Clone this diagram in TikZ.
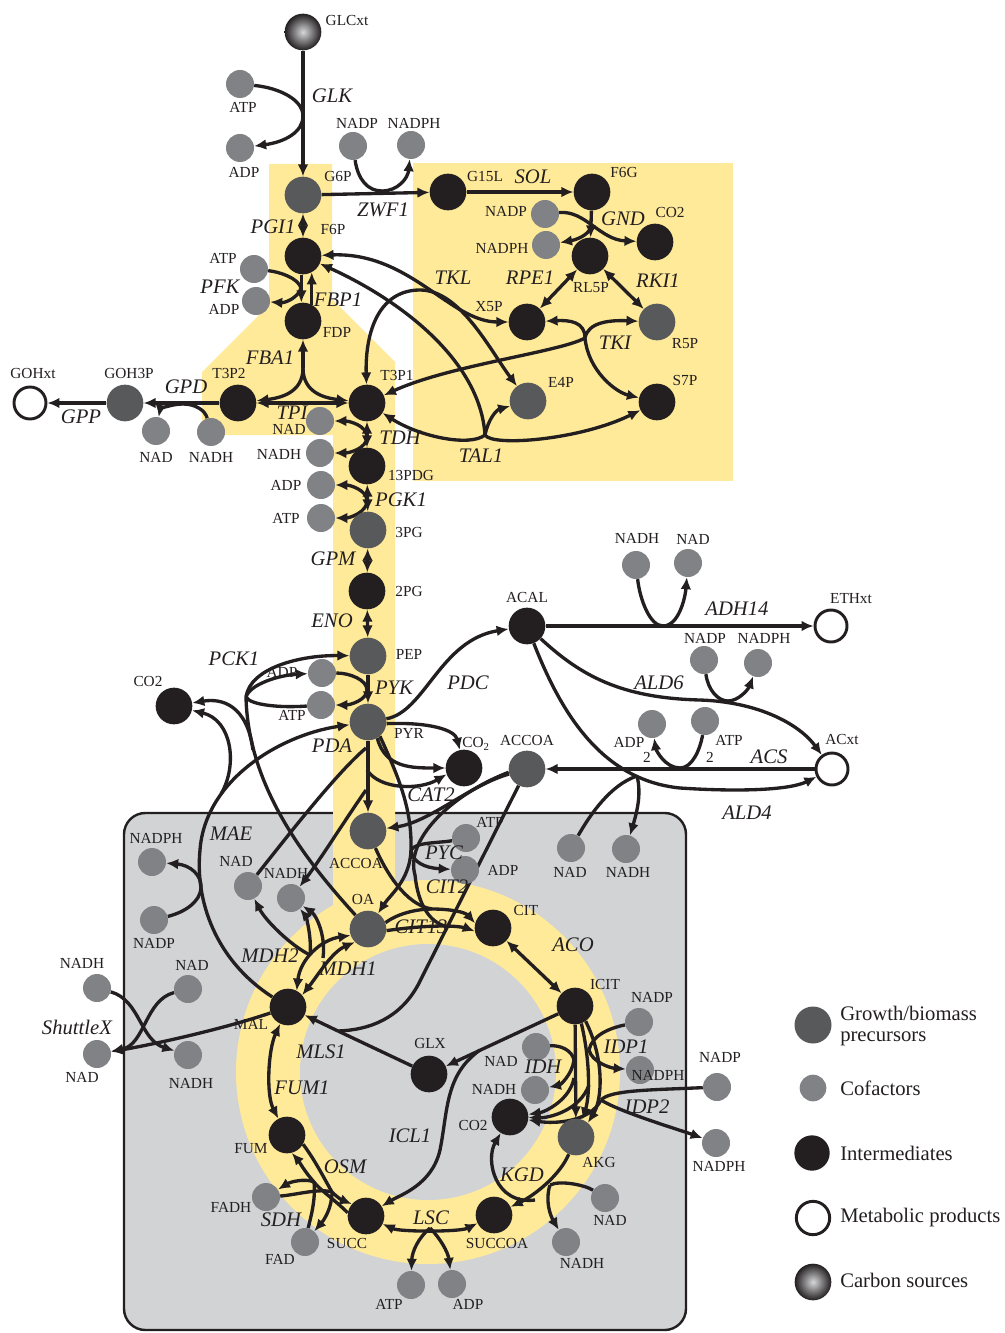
\documentclass[tikz,border=0pt]{standalone}
\usepackage{fontspec}
\setmainfont{Liberation Serif}
\usetikzlibrary{arrows.meta}
\definecolor{interm}{HTML}{231F20}
\definecolor{precur}{HTML}{58595B}
\definecolor{cofac}{HTML}{808285}
\definecolor{hilite}{HTML}{FFEA99}
\definecolor{mitofill}{HTML}{D1D3D4}
\definecolor{srclight}{HTML}{D6D7D9}
\pgfdeclarelayer{shapes}
\pgfdeclarelayer{links}
\pgfsetlayers{shapes,links,main}
\tikzset{
  >={Latex[length=9pt,width=8pt]},
  mol/.style={circle,inner sep=0pt,minimum size=27.5pt},
  inter/.style={mol,fill=interm},
  prec/.style={mol,fill=precur},
  cof/.style={circle,inner sep=0pt,minimum size=21pt,fill=cofac},
  prod/.style={circle,inner sep=0pt,minimum size=24pt,draw=interm,line width=2.2pt,fill=white},
  csrc/.style={mol,inner color=srclight,outer color=interm},
  lab/.style={font=\fontsize{11.5}{12}\selectfont,inner sep=0pt,text=interm},
  enz/.style={font=\fontsize{15.5}{16}\selectfont\itshape,inner sep=0pt,text=interm},
  leg/.style={font=\fontsize{15.5}{16}\selectfont,inner sep=0pt,anchor=west,align=left,text=interm},
  rx/.style={line width=2.5pt,draw=interm},
  fw/.style={rx,->},
  bw/.style={rx,<-},
  bi/.style={rx,<->},
}
\begin{document}
\begin{tikzpicture}[x=0.75pt,y=-0.75pt]
\useasboundingbox (0,0) rectangle (1005,1333);

% ---------- compartments and highlighted pathways ----------
\begin{pgfonlayer}{shapes}
\fill[white] (0,0) rectangle (1005,1333);
\draw[fill=mitofill,draw=interm,line width=1.8pt,rounded corners=16pt] (124,813) rectangle (686,1330);
\fill[hilite] (413,163) rectangle (733,481);
\fill[hilite] (269,164) -- (332,164) -- (332,299) -- (395,362) -- (395,1000) -- (333,1000)
  -- (333,435) -- (202,435) -- (202,372) -- (269,305) -- cycle;
\fill[hilite] (428,1072) circle[radius=192];
\fill[mitofill] (428,1072) circle[radius=128];
\end{pgfonlayer}

% ---------- metabolites ----------
\node[csrc] (GLCxt) at (303,32) {};
\node[cof] (ATPglk) at (240,84) {};
\node[cof] (ADPglk) at (240,148) {};
\node[prec] (G6P) at (303,195) {};
\node[cof] (NADPzwf) at (353,146) {};
\node[cof] (NADPHzwf) at (411,145) {};
\node[inter] (G15L) at (448,192) {};
\node[inter] (F6G) at (592,192) {};
\node[cof] (NADPgnd) at (545,214) {};
\node[cof] (NADPHgnd) at (546,245) {};
\node[inter] (CO2gnd) at (655,242) {};
\node[inter] (RL5P) at (590,256) {};
\node[inter] (X5P) at (527,322) {};
\node[prec] (R5P) at (657,322) {};
\node[prec] (E4P) at (528,401) {};
\node[inter] (S7P) at (657,402) {};
\node[inter] (F6P) at (303,256) {};
\node[cof] (ATPpfk) at (254,269) {};
\node[cof] (ADPpfk) at (256,301) {};
\node[inter] (FDP) at (303,321) {};
\node[inter] (T3P2) at (238,403) {};
\node[inter] (T3P1) at (367,403) {};
\node[prec] (GOH3P) at (125,403) {};
\node[prod] (GOHxt) at (30,403) {};
\node[cof] (NADgpd) at (156,431) {};
\node[cof] (NADHgpd) at (211,432) {};
\node[cof] (NADtdh) at (320,421) {};
\node[cof] (NADHtdh) at (320,453) {};
\node[cof] (ADPpgk) at (321,485) {};
\node[cof] (ATPpgk) at (321,518) {};
\node[inter] (PDG) at (367,466) {};
\node[prec] (PGa) at (368,530) {};
\node[inter] (PGb) at (367,591) {};
\node[prec] (PEP) at (368,656) {};
\node[cof] (ADPpyk) at (322,673) {};
\node[cof] (ATPpyk) at (321,705) {};
\node[prec] (PYR) at (368,722) {};
\node[inter] (CO2c) at (174,706) {};
\node[inter] (ACAL) at (527,626) {};
\node[cof] (NADHadh) at (636,565) {};
\node[cof] (NADadh) at (688,563) {};
\node[prod] (ETHxt) at (831,626) {};
\node[cof] (NADPald) at (704,660) {};
\node[cof] (NADPHald) at (758,663) {};
\node[cof] (ADPacs) at (652,724) {};
\node[cof] (ATPacs) at (705,721) {};
\node[prod] (ACxt) at (832,769) {};
\node[inter] (CO2p) at (464,768) {};
\node[prec] (ACCOA) at (527,769) {};
\node[prec] (ACCOAm) at (368,831) {};
\node[cof] (ATPpyc) at (466,838) {};
\node[cof] (ADPpyc) at (465,870) {};
\node[cof] (NADald) at (571,848) {};
\node[cof] (NADHald) at (626,849) {};
\node[cof] (NADPHmae) at (152,862) {};
\node[cof] (NADPmae) at (154,920) {};
\node[cof] (NADmdh) at (248,886) {};
\node[cof] (NADHmdh) at (291,898) {};
\node[prec] (OA) at (368,929) {};
\node[inter] (CIT) at (493,928) {};
\node[inter] (ICIT) at (575,1006) {};
\node[cof] (NADPidpa) at (639,1022) {};
\node[cof] (NADPHidpa) at (640,1070) {};
\node[cof] (NADPidpb) at (717,1087) {};
\node[cof] (NADPHidpb) at (716,1143) {};
\node[cof] (NADidh) at (536,1047) {};
\node[cof] (NADHidh) at (535,1090) {};
\node[inter] (CO2m) at (510,1117) {};
\node[prec] (AKG) at (576,1137) {};
\node[inter] (GLX) at (429,1074) {};
\node[inter] (MAL) at (288,1007) {};
\node[inter] (FUM) at (287,1135) {};
\node[cof] (FADH) at (266,1197) {};
\node[cof] (FAD) at (305,1242) {};
\node[inter] (SUCC) at (366,1216) {};
\node[inter] (SUCCOA) at (494,1215) {};
\node[cof] (NADkgd) at (605,1198) {};
\node[cof] (NADHkgd) at (566,1242) {};
\node[cof] (ATPlsc) at (411,1285) {};
\node[cof] (ADPlsc) at (452,1284) {};
\node[cof] (NADHout) at (97,988) {};
\node[cof] (NADin) at (188,989) {};
\node[cof] (NADout) at (97,1054) {};
\node[cof] (NADHin) at (188,1055) {};

% ---------- metabolite names ----------
\node[lab] (tGLCxt) at (347,21) {GLCxt};
\node[lab] (tATPglk) at (243,107) {ATP};
\node[lab] (tADPglk) at (244,172) {ADP};
\node[lab] (tG6P) at (338,177) {G6P};
\node[lab] (tNADPzwf) at (357,123) {NADP};
\node[lab] (tNADPHzwf) at (414,123) {NADPH};
\node[lab] (tG15L) at (485,177) {G15L};
\node[lab] (tF6G) at (624,173) {F6G};
\node[lab] (tNADPgnd) at (506,211) {NADP};
\node[lab] (tNADPHgnd) at (502,248) {NADPH};
\node[lab] (tCO2gnd) at (670,213) {CO2};
\node[lab] (tRL5P) at (591,288) {RL5P};
\node[lab] (tX5P) at (489,307) {X5P};
\node[lab] (tR5P) at (685,344) {R5P};
\node[lab] (tE4P) at (561,382) {E4P};
\node[lab] (tS7P) at (685,380) {S7P};
\node[lab] (tF6P) at (333,230) {F6P};
\node[lab] (tATPpfk) at (223,258) {ATP};
\node[lab] (tADPpfk) at (224,309) {ADP};
\node[lab] (tFDP) at (337,332) {FDP};
\node[lab] (tT3P2) at (229,373) {T3P2};
\node[lab] (tT3P1) at (397,375) {T3P1};
\node[lab] (tGOH3P) at (129,373) {GOH3P};
\node[lab] (tGOHxt) at (33,373) {GOHxt};
\node[lab] (tNADgpd) at (156,457) {NAD};
\node[lab] (tNADHgpd) at (211,457) {NADH};
\node[lab] (tNADtdh) at (289,429) {NAD};
\node[lab] (tNADHtdh) at (279,454) {NADH};
\node[lab] (tADPpgk) at (286,485) {ADP};
\node[lab] (tATPpgk) at (286,518) {ATP};
\node[lab] (tPDG) at (411,475) {13PDG};
\node[lab] (tPGa) at (409,532) {3PG};
\node[lab] (tPGb) at (409,591) {2PG};
\node[lab] (tPEP) at (409,654) {PEP};
\node[lab] (tADPpyk) at (282,672) {ADP};
\node[lab] (tATPpyk) at (292,715) {ATP};
\node[lab] (tPYR) at (409,733) {PYR};
\node[lab] (tCO2c) at (148,681) {CO2};
\node[lab] (tACAL) at (527,597) {ACAL};
\node[lab] (tNADHadh) at (637,538) {NADH};
\node[lab] (tNADadh) at (693,539) {NAD};
\node[lab] (tETHxt) at (851,599) {ETHxt};
\node[lab] (tNADPald) at (705,638) {NADP};
\node[lab] (tNADPHald) at (764,638) {NADPH};
\node[lab] (tADPacs) at (629,742) {ADP};
\node[lab] (tADPacsn) at (647,757) {2};
\node[lab] (tATPacs) at (729,740) {ATP};
\node[lab] (tATPacsn) at (710,757) {2};
\node[lab] (tACxt) at (842,739) {ACxt};
\node[lab] (tCO2p) at (476,744) {CO\textsubscript{2}};
\node[lab] (tACCOA) at (527,740) {ACCOA};
\node[lab] (tACCOAm) at (356,863) {ACCOA};
\node[lab] (tATPpyc) at (490,822) {ATP};
\node[lab] (tADPpyc) at (503,870) {ADP};
\node[lab] (tNADald) at (570,872) {NAD};
\node[lab] (tNADHald) at (628,872) {NADH};
\node[lab] (tNADPHmae) at (156,838) {NADPH};
\node[lab] (tNADPmae) at (154,943) {NADP};
\node[lab] (tNADmdh) at (236,861) {NAD};
\node[lab] (tNADHmdh) at (286,873) {NADH};
\node[lab] (tOA) at (363,899) {OA};
\node[lab] (tCIT) at (526,910) {CIT};
\node[lab] (tICIT) at (605,984) {ICIT};
\node[lab] (tNADPidpa) at (652,997) {NADP};
\node[lab] (tNADPHidpa) at (658,1075) {NADPH};
\node[lab] (tNADPidpb) at (720,1057) {NADP};
\node[lab] (tNADPHidpb) at (719,1166) {NADPH};
\node[lab] (tNADidh) at (501,1061) {NAD};
\node[lab] (tNADHidh) at (494,1089) {NADH};
\node[lab] (tCO2m) at (473,1125) {CO2};
\node[lab] (tAKG) at (599,1162) {AKG};
\node[lab] (tGLX) at (430,1043) {GLX};
\node[lab] (tMAL) at (251,1024) {MAL};
\node[lab] (tFUM) at (251,1149) {FUM};
\node[lab] (tFADH) at (231,1207) {FADH};
\node[lab] (tFAD) at (280,1259) {FAD};
\node[lab] (tSUCC) at (347,1243) {SUCC};
\node[lab] (tSUCCOA) at (497,1243) {SUCCOA};
\node[lab] (tNADkgd) at (610,1220) {NAD};
\node[lab] (tNADHkgd) at (582,1263) {NADH};
\node[lab] (tATPlsc) at (389,1304) {ATP};
\node[lab] (tADPlsc) at (468,1304) {ADP};
\node[lab] (tNADHout) at (82,963) {NADH};
\node[lab] (tNADin) at (192,965) {NAD};
\node[lab] (tNADout) at (82,1077) {NAD};
\node[lab] (tNADHin) at (191,1083) {NADH};

% ---------- enzyme names ----------
\node[enz] (eGLK) at (332,96) {GLK};
\node[enz] (eZWF) at (383,210) {ZWF1};
\node[enz] (eSOL) at (533,177) {SOL};
\node[enz] (eGND) at (623,219) {GND};
\node[enz] (eTKL) at (453,278) {TKL};
\node[enz] (eRPE) at (530,278) {RPE1};
\node[enz] (eRKI) at (658,281) {RKI1};
\node[enz] (eTKI) at (615,343) {TKI};
\node[enz] (eTAL) at (481,456) {TAL1};
\node[enz] (ePGI) at (273,227) {PGI1};
\node[enz] (ePFK) at (220,287) {PFK};
\node[enz] (eFBP) at (338,300) {FBP1};
\node[enz] (eFBA) at (270,358) {FBA1};
\node[enz] (eGPD) at (186,387) {GPD};
\node[enz] (eGPP) at (81,417) {GPP};
\node[enz] (eTPI) at (292,413) {TPI};
\node[enz] (eTDH) at (400,438) {TDH};
\node[enz] (ePGK) at (401,500) {PGK1};
\node[enz] (eGPM) at (333,559) {GPM};
\node[enz] (eENO) at (332,621) {ENO};
\node[enz] (ePCK) at (234,659) {PCK1};
\node[enz] (ePYK) at (394,688) {PYK};
\node[enz] (ePDA) at (332,746) {PDA};
\node[enz] (ePDC) at (468,683) {PDC};
\node[enz] (eADH) at (737,609) {ADH14};
\node[enz] (eALDs) at (659,683) {ALD6};
\node[enz] (eACS) at (769,757) {ACS};
\node[enz] (eALDf) at (747,813) {ALD4};
\node[enz] (eCAT) at (431,795) {CAT2};
\node[enz] (ePYC) at (444,853) {PYC};
\node[enz] (eCITb) at (447,887) {CIT2};
\node[enz] (eCITa) at (421,927) {CIT13};
\node[enz] (eMAE) at (231,834) {MAE};
\node[enz] (eMDHb) at (270,956) {MDH2};
\node[enz] (eMDHa) at (348,969) {MDH1};
\node[enz] (eACO) at (573,945) {ACO};
\node[enz] (eIDPa) at (626,1047) {IDP1};
\node[enz] (eIDPb) at (647,1107) {IDP2};
\node[enz] (eIDH) at (543,1067) {IDH};
\node[enz] (eMLS) at (321,1052) {MLS1};
\node[enz] (eICL) at (410,1136) {ICL1};
\node[enz] (eFUM) at (302,1088) {FUM1};
\node[enz] (eOSM) at (345,1167) {OSM};
\node[enz] (eSDH) at (281,1220) {SDH};
\node[enz] (eLSC) at (431,1218) {LSC};
\node[enz] (eKGD) at (522,1175) {KGD};
\node[enz] (eShut) at (77,1027) {ShuttleX};

% ---------- legend ----------
\node[prec,minimum size=27.75pt] (Lprec) at (813,1025) {};
\node[cof,minimum size=20pt] (Lcof) at (813,1088) {};
\node[inter,minimum size=26.5pt] (Lint) at (812,1153) {};
\node[prod,minimum size=25pt] (Lprod) at (813,1218) {};
\node[csrc] (Lsrc) at (813,1282) {};
\node[leg] (tLprec) at (840,1026) {Growth/biomass\\precursors};
\node[leg] (tLcof) at (840,1088) {Cofactors};
\node[leg] (tLint) at (840,1153) {Intermediates};
\node[leg] (tLprod) at (840,1218) {Metabolic products};
\node[leg] (tLsrc) at (840,1280) {Carbon sources};

% ---------- reactions ----------
\begin{pgfonlayer}{links}
% glucose uptake and phosphorylation
\draw[fw] (GLCxt) -- (G6P);
\coordinate (jGLK) at (303,116);
\draw[rx] (ATPglk) .. controls (280,88) and (303,100) .. (jGLK);
\draw[fw] (jGLK) .. controls (303,132) and (285,142) .. (ADPglk);
% oxidative pentose phosphate branch
\draw[fw] (G6P) -- (G15L);
\coordinate (jZWF) at (382,191);
\draw[rx] (NADPzwf) .. controls (358,180) and (368,191) .. (jZWF);
\draw[fw] (jZWF) .. controls (398,191) and (408,178) .. (NADPHzwf);
\draw[fw] (G15L) -- (F6G);
\draw[fw] (F6G) -- (RL5P);
\draw[fw] (NADPgnd) .. controls (585,210) and (600,240) .. (CO2gnd);
\coordinate (jGND) at (591,227);
\draw[fw] (jGND) .. controls (588,236) and (575,240) .. (NADPHgnd);
\draw[bi] (RL5P) -- (X5P);
\draw[bi] (RL5P) -- (R5P);
% transketolase / transaldolase
\coordinate (jTKI) at (585,338);
\draw[fw] (jTKI) .. controls (585,322) and (570,320) .. (X5P);
\draw[fw] (jTKI) .. controls (588,322) and (610,320) .. (R5P);
\draw[fw] (jTKI) .. controls (588,370) and (615,392) .. (S7P);
\draw[fw] (jTKI) .. controls (560,352) and (450,365) .. (T3P1);
\draw[bi] (F6P) .. controls (410,252) and (450,322) .. (X5P);
\draw[bi] (T3P1) .. controls (365,330) and (380,290) .. (420,290) .. controls (460,290) and (490,350) .. (E4P);
\coordinate (jTAL) at (485,435);
\draw[fw] (jTAL) .. controls (480,360) and (400,300) .. (F6P);
\draw[fw] (jTAL) .. controls (470,447) and (420,437) .. (T3P1);
\draw[fw] (jTAL) .. controls (488,420) and (496,410) .. (E4P);
\draw[fw] (jTAL) .. controls (492,447) and (580,440) .. (S7P);
% upper glycolysis
\draw[bi] (G6P) -- (F6P);
\draw[fw] (F6P.-95) -- (FDP.95);
\draw[fw] (FDP.62) -- (F6P.-62);
\coordinate (jPFK) at (301,288);
\draw[rx] (ATPpfk) .. controls (280,272) and (298,278) .. (jPFK);
\draw[fw] (jPFK) .. controls (298,298) and (285,303) .. (ADPpfk);
\coordinate (jFBA) at (303,368);
\draw[bw] (FDP) -- (jFBA);
\draw[fw] (jFBA) .. controls (303,393) and (280,398) .. (T3P2);
\draw[fw] (jFBA) .. controls (303,393) and (325,398) .. (T3P1);
\draw[bi] (T3P2) -- (T3P1);
% glycerol branch
\draw[fw] (T3P2) -- (GOH3P);
\coordinate (jGPD) at (183,404);
\draw[rx] (NADHgpd) .. controls (205,410) and (195,404) .. (jGPD);
\draw[fw] (jGPD) .. controls (170,404) and (160,410) .. (NADgpd);
\draw[fw] (GOH3P) -- (GOHxt);
% lower glycolysis
\draw[bi] (T3P1) -- (PDG);
\coordinate (jTDH) at (367,437);
\draw[fw] (jTDH) .. controls (367,426) and (350,421) .. (NADtdh);
\draw[fw] (jTDH) .. controls (367,448) and (350,453) .. (NADHtdh);
\draw[bi] (PDG) -- (PGa);
\coordinate (jPGK) at (367,501);
\draw[fw] (jPGK) .. controls (367,490) and (350,485) .. (ADPpgk);
\draw[fw] (jPGK) .. controls (367,512) and (350,518) .. (ATPpgk);
\draw[bi] (PGa) -- (PGb);
\draw[bi] (PGb) -- (PEP);
\draw[fw] (PEP) -- (PYR);
\coordinate (jPYK) at (367,690);
\draw[rx] (ADPpyk) .. controls (350,673) and (367,680) .. (jPYK);
\draw[fw] (jPYK) .. controls (367,700) and (350,705) .. (ATPpyk);
% PEP carboxykinase
\coordinate (jPCK) at (246,697);
\draw[fw] (jPCK) .. controls (250,668) and (300,655) .. (PEP);
\draw[fw] (jPCK) .. controls (250,684) and (280,675) .. (ADPpyk);
\draw[rx] (ATPpyk) .. controls (280,708) and (250,705) .. (jPCK);
\draw[rx] (jPCK) .. controls (248,790) and (310,865) .. (OA);
\coordinate (jPCKc) at (253,750);
\draw[fw] (jPCKc) .. controls (247,705) and (222,698) .. (CO2c);
% malic enzyme
\coordinate (jMAEa) at (200,850);
\draw[fw] (MAL) .. controls (215,960) and (195,900) .. (jMAEa) .. controls (205,780) and (280,735) .. (PYR);
\coordinate (jMAEc) at (221,794);
\draw[fw] (jMAEc) .. controls (238,765) and (232,720) .. (CO2c);
\coordinate (jMAEn) at (201,888);
\draw[rx] (NADPmae) .. controls (185,912) and (200,902) .. (jMAEn);
\draw[fw] (jMAEn) .. controls (202,875) and (190,865) .. (NADPHmae);
% pyruvate branch points
\draw[fw] (PYR) -- (ACCOAm);
\coordinate (jPDAa) at (366,748);
\coordinate (jPDAb) at (366,790);
\draw[rx] (NADmdh) .. controls (300,820) and (340,770) .. (jPDAa);
\draw[fw] (jPDAb) .. controls (345,820) and (320,860) .. (NADHmdh);
\draw[fw] (PYR.10) .. controls (425,712) and (440,640) .. (ACAL);
\draw[fw] (PYR.-5) .. controls (430,722) and (455,730) .. (CO2p);
\draw[fw] (PYR.-60) .. controls (385,768) and (412,768) .. (CO2p);
\coordinate (jPDAc) at (367,770);
\draw[fw] (jPDAc) .. controls (380,790) and (420,790) .. (CO2p.200);
\coordinate (jPYC) at (411,850);
\draw[rx] (PYR.-50) .. controls (400,780) and (412,810) .. (jPYC);
\draw[fw] (jPYC) .. controls (410,880) and (390,895) .. (OA);
\draw[rx] (ATPpyc) .. controls (440,843) and (415,842) .. (jPYC);
\draw[fw] (jPYC) .. controls (412,862) and (425,868) .. (ADPpyc);
% acetaldehyde, ethanol and acetate
\draw[fw] (ACAL) -- (ETHxt);
\coordinate (jADH) at (663,626);
\draw[rx] (NADHadh) .. controls (640,600) and (650,626) .. (jADH);
\draw[fw] (jADH) .. controls (678,626) and (685,600) .. (NADadh);
\coordinate (jALDa) at (700,700);
\draw[fw] (ACAL) .. controls (580,675) and (620,698) .. (jALDa) .. controls (760,702) and (800,725) .. (ACxt);
\coordinate (jALDb) at (728,701);
\draw[rx] (NADPald) .. controls (708,690) and (718,701) .. (jALDb);
\draw[fw] (jALDb) .. controls (738,701) and (748,690) .. (NADPHald);
\coordinate (jALDc) at (680,788);
\draw[fw] (ACAL) .. controls (560,710) and (600,780) .. (jALDc) .. controls (740,792) and (790,790) .. (ACxt);
\coordinate (jALDd) at (637,776);
\draw[rx] (NADald) .. controls (590,815) and (610,785) .. (jALDd);
\draw[fw] (jALDd) .. controls (642,795) and (636,815) .. (NADHald);
\draw[fw] (ACxt) -- (ACCOA);
\coordinate (jACS) at (680,768);
\draw[rx] (ATPacs) .. controls (700,750) and (692,768) .. (jACS);
\draw[fw] (jACS) .. controls (665,768) and (656,750) .. (ADPacs);
% acetyl-CoA transport and citrate synthesis
\draw[fw] (ACCOA) .. controls (470,785) and (430,822) .. (ACCOAm);
\coordinate (jCITa) at (432,909);
\coordinate (jCITb) at (445,926);
\draw[fw] (OA.20) .. controls (400,912) and (420,909) .. (jCITa) .. controls (450,909) and (465,912) .. (CIT.165);
\draw[rx] (ACCOAm) .. controls (385,870) and (405,905) .. (jCITa);
\draw[fw] (OA.-5) .. controls (405,928) and (425,926) .. (jCITb) .. controls (458,926) and (466,928) .. (CIT.190);
\coordinate (jCITc) at (415,875);
\draw[rx] (ACCOA.190) .. controls (450,795) and (405,840) .. (jCITc) .. controls (418,905) and (430,922) .. (jCITb);
% TCA cycle
\draw[bi] (CIT) -- (ICIT);
\draw[fw] (ICIT) -- (AKG);
\coordinate (jIDH) at (574,1060);
\draw[rx] (NADidh) .. controls (560,1045) and (572,1050) .. (jIDH);
\draw[fw] (jIDH) .. controls (572,1075) and (560,1085) .. (NADHidh);
\coordinate (jIDHc) at (574,1078);
\draw[fw] (jIDHc) .. controls (570,1100) and (545,1112) .. (CO2m);
\draw[fw] (ICIT.-70) .. controls (590,1060) and (590,1095) .. (AKG.70);
\coordinate (jIDPa) at (589,1050);
\draw[rx] (NADPidpa) .. controls (610,1028) and (592,1035) .. (jIDPa);
\draw[fw] (jIDPa) .. controls (592,1062) and (610,1068) .. (NADPHidpa);
\coordinate (jIDPc) at (589,1085);
\draw[fw] (jIDPc) .. controls (580,1110) and (550,1118) .. (CO2m);
\draw[fw] (ICIT.-55) .. controls (605,1060) and (602,1100) .. (AKG.50);
\coordinate (jIDPb) at (601,1100);
\draw[rx] (NADPidpb) .. controls (650,1090) and (610,1090) .. (jIDPb);
\draw[fw] (jIDPb) .. controls (620,1112) and (680,1130) .. (NADPHidpb);
\draw[fw] (jIDPb) .. controls (590,1122) and (555,1124) .. (CO2m);
\draw[fw] (AKG) .. controls (560,1175) and (535,1195) .. (SUCCOA);
\coordinate (jKGD) at (550,1185);
\draw[rx] (NADkgd) .. controls (585,1185) and (560,1180) .. (jKGD);
\draw[fw] (jKGD) .. controls (545,1200) and (550,1215) .. (NADHkgd);
\coordinate (jKGDc) at (535,1200);
\draw[fw] (jKGDc) .. controls (495,1205) and (485,1160) .. (CO2m);
\draw[bi] (SUCC) .. controls (400,1232) and (460,1232) .. (SUCCOA);
\coordinate (jLSC) at (430,1228);
\draw[fw] (jLSC) .. controls (418,1238) and (412,1252) .. (ATPlsc);
\draw[fw] (jLSC) .. controls (440,1238) and (448,1252) .. (ADPlsc);
\coordinate (jSDH) at (314,1182);
\draw[fw] (SUCC.170) .. controls (335,1200) and (320,1190) .. (jSDH) .. controls (305,1172) and (298,1160) .. (FUM.-75);
\draw[rx] (FAD) .. controls (310,1220) and (316,1200) .. (jSDH);
\draw[fw] (jSDH) .. controls (305,1178) and (290,1182) .. (FADH);
\coordinate (jOSM) at (332,1192);
\draw[fw] (FUM.-30) .. controls (315,1160) and (325,1180) .. (jOSM) .. controls (338,1198) and (342,1200) .. (SUCC.140);
\draw[rx] (FADH) .. controls (295,1195) and (320,1188) .. (jOSM);
\draw[fw] (jOSM) .. controls (332,1208) and (324,1220) .. (FAD);
\draw[bi] (MAL) .. controls (268,1050) and (266,1095) .. (FUM);
% glyoxylate shunt
\draw[fw] (ICIT) -- (GLX);
\coordinate (jICL) at (480,1050);
\coordinate (jICLb) at (440,1150);
\draw[fw] (jICL) .. controls (445,1075) and (448,1110) .. (jICLb) .. controls (432,1185) and (400,1195) .. (SUCC);
\coordinate (jMLS) at (338,1031);
\coordinate (jMLSb) at (418,985);
\draw[rx] (ACCOA) -- (jMLSb) .. controls (400,1018) and (370,1030) .. (jMLS);
\draw[rx] (GLX) -- (jMLS);
\draw[fw] (jMLS) -- (MAL);
% malate dehydrogenases
\draw[bi] (MAL.62) .. controls (300,960) and (320,940) .. (OA.200);
\draw[bi] (MAL.40) .. controls (318,975) and (332,952) .. (OA.225);
\coordinate (jMDHa) at (310,955);
\coordinate (jMDHb) at (323,958);
\draw[fw] (jMDHa) .. controls (290,945) and (265,920) .. (NADmdh);
\draw[fw] (jMDHa) .. controls (312,935) and (305,915) .. (NADHmdh);
\draw[fw] (jMDHb) .. controls (326,935) and (316,915) .. (NADHmdh);
% redox shuttle
\draw[fw] (NADHout) .. controls (140,1000) and (140,1040) .. (NADHin);
\draw[fw] (NADin) .. controls (145,1000) and (145,1045) .. (NADout);
\draw[fw] (MAL) .. controls (220,1030) and (150,1045) .. (NADout);
\end{pgfonlayer}
\end{tikzpicture}
\end{document}
